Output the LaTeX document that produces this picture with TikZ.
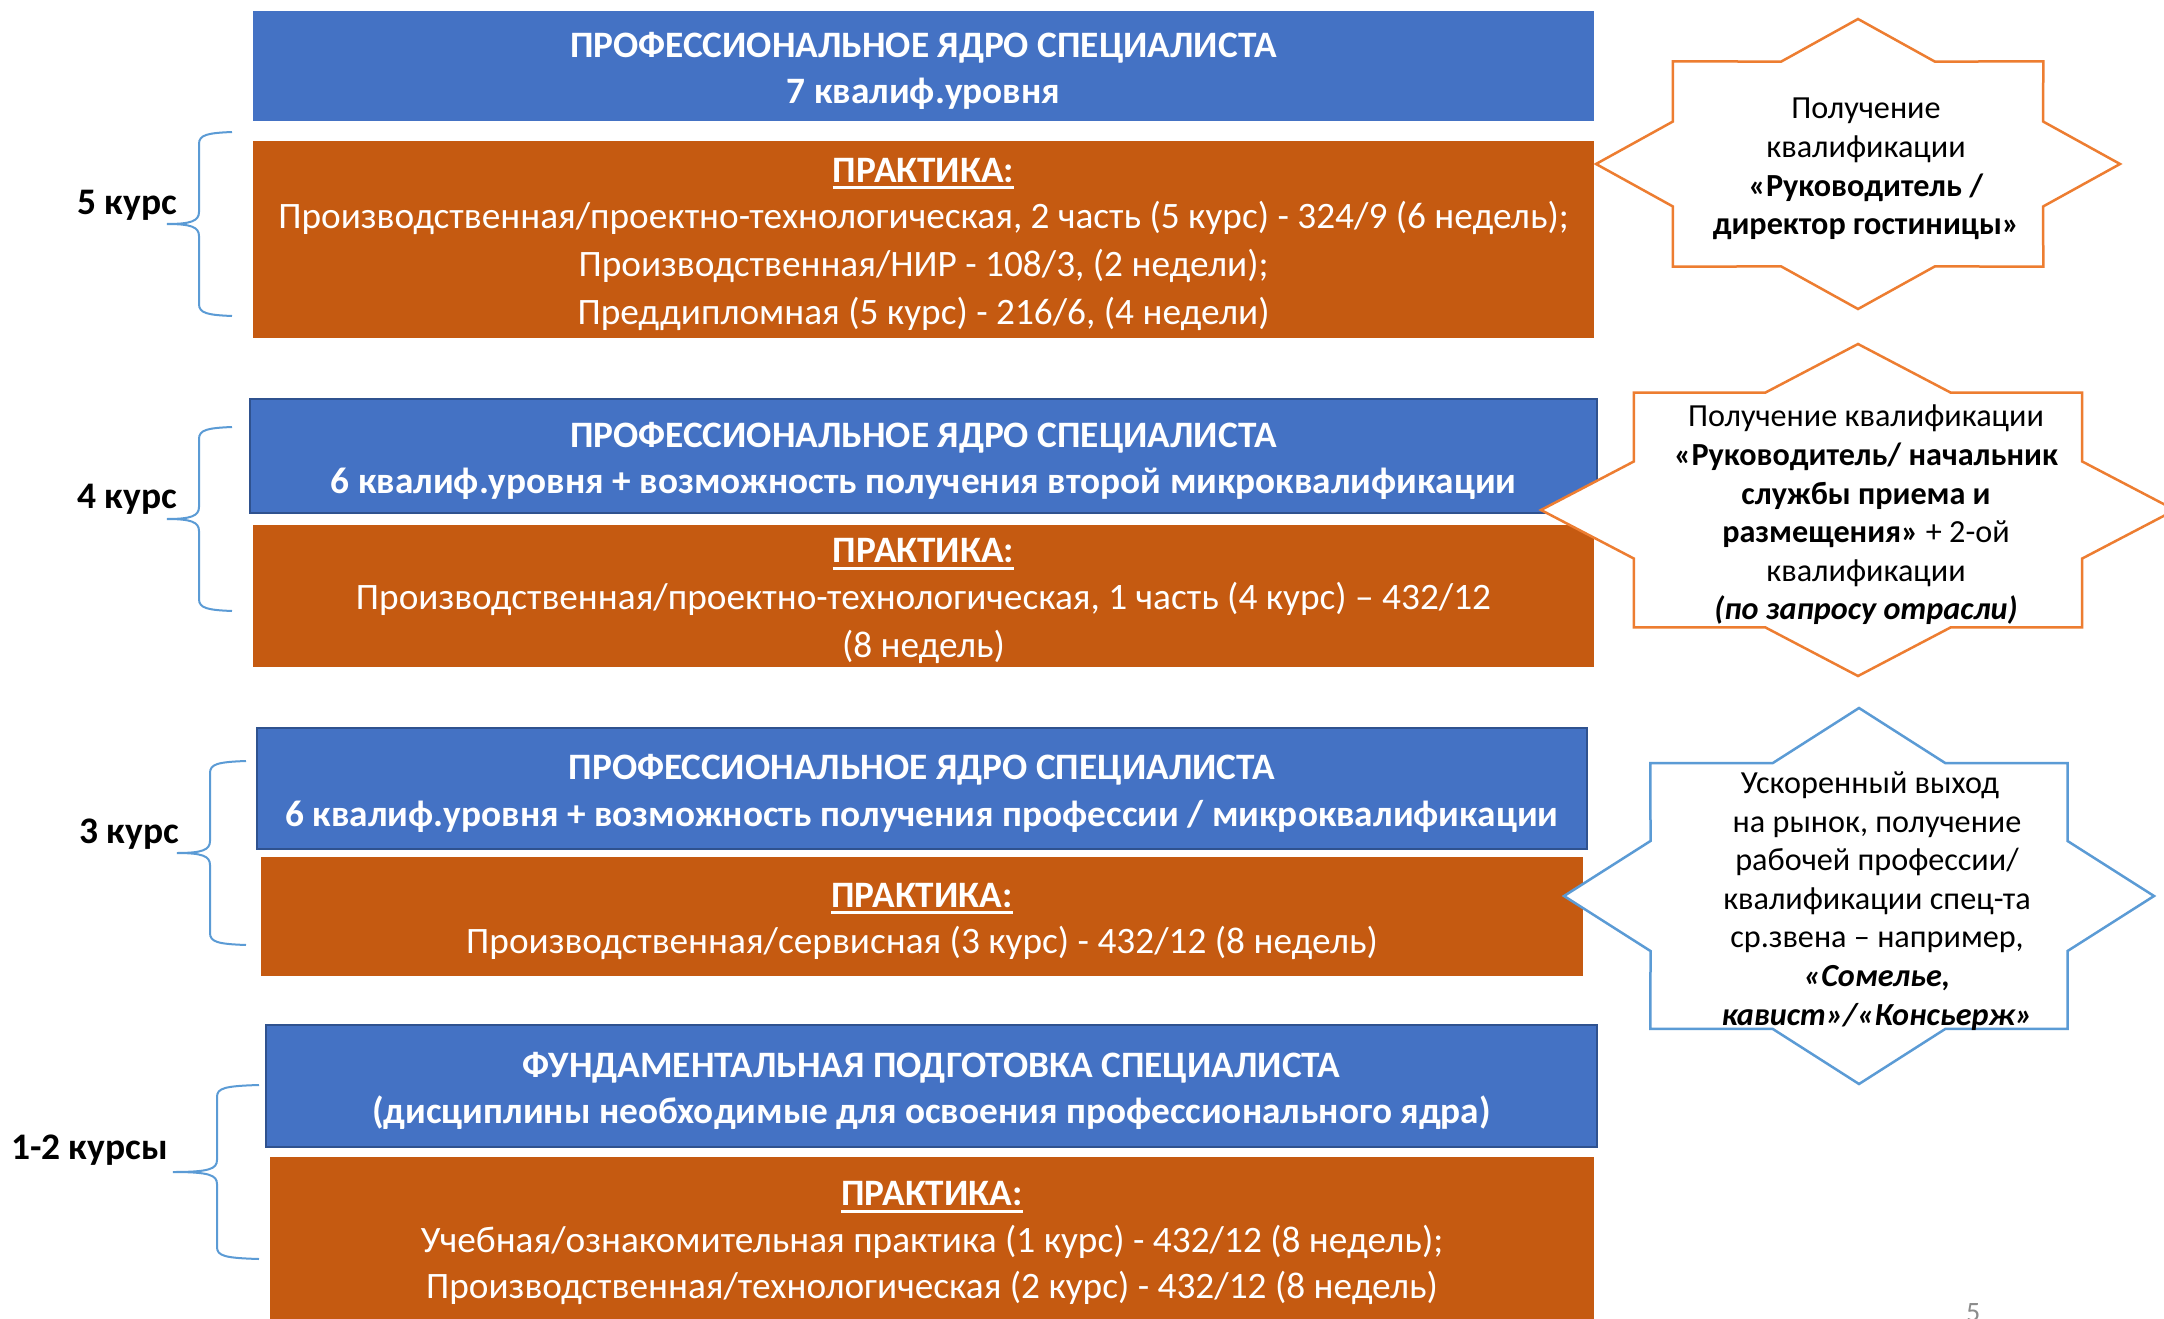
\documentclass[tikz,border=0pt]{standalone}
\usepackage{fontspec}
\setmainfont{Carlito}
\definecolor{cblue}{HTML}{4472C4}
\definecolor{cbluedark}{HTML}{2F528F}
\definecolor{corange}{HTML}{C55A11}
\definecolor{starorange}{HTML}{ED7D31}
\definecolor{starblue}{HTML}{5B9BD5}
\definecolor{bracecol}{HTML}{5B9BD5}
\definecolor{pagenum}{HTML}{8C8C8C}
\newcommand\myuline[1]{\setbox0\hbox{#1}\rlap{\rule[-7pt]{\wd0}{3pt}}\box0}
\newcommand\eightstar[5]{%
  \draw[#5] plot[variable=\k, samples at={0,1,...,15}]
    ({#1+#3*ifthenelse(mod(\k,2)==0,1,0.765)*cos(\k*22.5)},
     {#2+#4*ifthenelse(mod(\k,2)==0,1,0.765)*sin(\k*22.5)}) -- cycle;}
\newcommand\coursebrace[6]{% xend, xspine, xtip, ytop, ymid, ybot
  \draw[bracestyle] (#1,#4) .. controls (#2+8,#4+1) and (#2,#4+3) .. (#2,#4+12)
    -- (#2,#5-12) .. controls (#2,#5-3) and (#2-8,#5) .. (#3,#5)
    .. controls (#2-8,#5) and (#2,#5+3) .. (#2,#5+12)
    -- (#2,#6-12) .. controls (#2,#6-3) and (#2+8,#6-1) .. (#1,#6);}
\begin{document}
\begin{tikzpicture}[x=1pt,y=-1pt,
  box/.style={inner sep=0pt, outer sep=0pt},
  bluebox/.style={box, fill=cblue},
  blueboxb/.style={box, fill=cblue, draw=cbluedark, line width=2.5pt},
  orangebox/.style={box, fill=corange},
  boxtext/.style={inner sep=0pt, align=center, text=white, yshift=-5pt,
    font=\fontsize{37.3}{46.5}\selectfont},
  staro/.style={draw=starorange, fill=white, line width=2.5pt, line join=miter},
  starb/.style={draw=starblue, fill=white, line width=2.5pt, line join=miter},
  startext/.style={align=center, inner sep=0pt, yshift=-4pt,
    font=\fontsize{32.2}{38.6}\selectfont},
  bracestyle/.style={draw=bracecol, line width=2pt},
  courselabel/.style={inner sep=0pt, font=\fontsize{37.5}{44}\selectfont\bfseries}
]
\useasboundingbox (0,0) rectangle (2164,1319);
\fill[white] (0,0) rectangle (2164,1319);
\clip (0,0) rectangle (2164,1319);

% ---- 5 course
\node[bluebox, minimum width=1341pt, minimum height=110pt] (b1) at (923.5,66) {};
\node[boxtext] (b1t) at (b1.center)
  {\textbf{ПРОФЕССИОНАЛЬНОЕ ЯДРО СПЕЦИАЛИСТА}\\\textbf{7 квалиф.уровня}};
\node[orangebox, minimum width=1341pt, minimum height=197pt] (o1) at (923.5,239.5) {};
\node[boxtext] (o1t) at (o1.center)
  {\myuline{\textbf{ПРАКТИКА:}}\\Производственная/проектно-технологическая, 2 часть (5 курс) - 324/9 (6 недель);\\[1.5pt]Производственная/НИР - 108/3, (2 недели);\\[1.5pt]Преддипломная (5 курс) - 216/6, (4 недели)};

% ---- 4 course
\node[blueboxb, minimum width=1347pt, minimum height=114pt] (b2) at (923.5,456) {};
\node[boxtext] (b2t) at (b2.center)
  {\textbf{ПРОФЕССИОНАЛЬНОЕ ЯДРО СПЕЦИАЛИСТА}\\\textbf{6 квалиф.уровня + возможность получения второй микроквалификации}};
\node[orangebox, minimum width=1341pt, minimum height=142pt] (o2) at (923.5,596) {};
\node[boxtext] (o2t) at (o2.center)
  {\myuline{\textbf{ПРАКТИКА:}}\\Производственная/проектно-технологическая, 1 часть (4 курс) – 432/12\\[1.5pt](8 недель)};

% ---- 3 course
\node[blueboxb, minimum width=1330pt, minimum height=121pt] (b3) at (922,788.5) {};
\node[boxtext] (b3t) at (b3.center)
  {\textbf{ПРОФЕССИОНАЛЬНОЕ ЯДРО СПЕЦИАЛИСТА}\\\textbf{6 квалиф.уровня + возможность получения профессии / микроквалификации}};
\node[orangebox, minimum width=1322pt, minimum height=119pt] (o3) at (922,916.5) {};
\node[boxtext] (o3t) at (o3.center)
  {\myuline{\textbf{ПРАКТИКА:}}\\Производственная/сервисная (3 курс) - 432/12 (8 недель)};

% ---- 1-2 course
\node[blueboxb, minimum width=1331pt, minimum height=122pt] (b4) at (931.5,1086) {};
\node[boxtext] (b4t) at (b4.center)
  {\textbf{ФУНДАМЕНТАЛЬНАЯ ПОДГОТОВКА СПЕЦИАЛИСТА}\\\textbf{(дисциплины необходимые для освоения профессионального ядра)}};
\node[orangebox, minimum width=1324pt, minimum height=162pt] (o4) at (932,1238) {};
\node[boxtext] (o4t) at (o4.center)
  {\myuline{\textbf{ПРАКТИКА:}}\\Учебная/ознакомительная практика (1 курс) - 432/12 (8 недель);\\Производственная/технологическая (2 курс) - 432/12 (8 недель)};

% ---- braces and labels
\coursebrace{232}{199}{167}{132}{224}{316}
\node[courselabel, anchor=base east] (l5) at (177,214) {5 курс};
\coursebrace{232}{199}{167}{427}{519}{611}
\node[courselabel, anchor=base east] (l4) at (177,508) {4 курс};
\coursebrace{246}{210}{177}{761}{853}{945}
\node[courselabel, anchor=base east] (l3) at (179,843) {3 курс};
\coursebrace{259}{217}{173}{1085}{1172}{1259}
\node[courselabel, anchor=base east] (l12) at (168,1159) {1-2 курсы};

% ---- stars
\eightstar{1858}{164}{262}{145}{staro}
\node[startext] (s1) at (1866,165)
  {Получение\\квалификации\\\textbf{«Руководитель /}\\\textbf{директор гостиницы»}};
\eightstar{1858}{510}{317}{166}{staro}
\node[startext] (s2) at (1866,511)
  {Получение квалификации\\\textbf{«Руководитель/ начальник}\\\textbf{службы приема и}\\\textbf{размещения»} + 2-ой\\квалификации\\\textbf{\textit{(по запросу отрасли)}}};
\eightstar{1859}{896}{295}{188}{starb}
\node[startext] (s3) at (1877,897)
  {Ускоренный выход\hspace*{14pt}\\на рынок, получение\hspace*{14pt}\\рабочей профессии/\\квалификации спец-та\\ср.звена – например,\\\textbf{\textit{«Сомелье,}}\\\textbf{\textit{кавист»/«Консьерж»}}};

% ---- page number
\node[anchor=north west, inner sep=0pt, text=pagenum, font=\fontsize{28}{34}\selectfont] (pn) at (1966,1303) {5};
\end{tikzpicture}
\end{document}
